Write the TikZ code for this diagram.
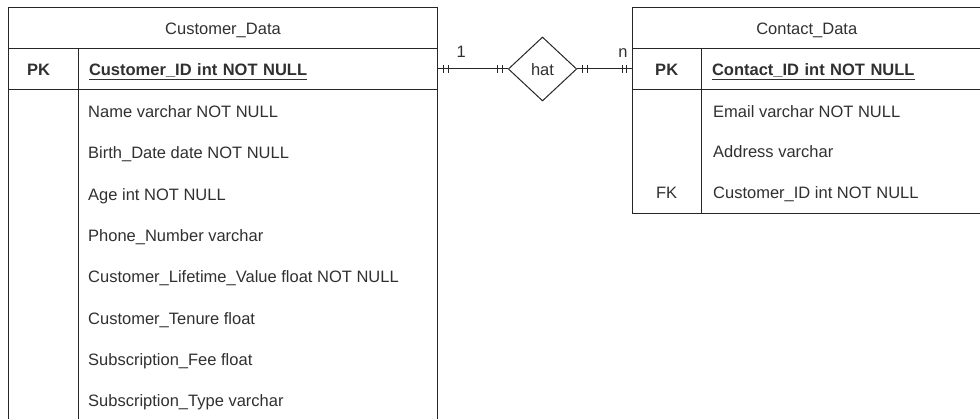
\documentclass[tikz,border=0pt]{standalone}
\usepackage{fontspec}
\setmainfont{Liberation Sans}
\usetikzlibrary{shapes.geometric}
\usetikzlibrary{decorations.markings}
\definecolor{erline}{HTML}{262626}
\definecolor{ertext}{HTML}{303030}

\begin{document}
\begin{tikzpicture}[x=1pt, y=-1pt,
  every node/.style={font=\fontsize{16.5}{19}\selectfont, text=ertext},
  cell/.style={draw=erline, line width=1pt, inner sep=0pt, anchor=north west,
    minimum height=41pt, text height=14pt, text depth=0pt},
  fieldcell/.style={cell, align=left, inner xsep=10.5pt},
  rowtext/.style={anchor=base west, inner sep=0pt},
  keytext/.style={anchor=base, inner sep=0pt},
  relation/.style={draw=erline, line width=1pt, shape=diamond, inner sep=0pt,
    minimum width=68.5pt, minimum height=64pt, text height=14pt, text depth=0pt},
  mandone/.style={draw=erline, line width=1pt,
    decoration={markings,
      mark=at position 5.5pt with {\draw[erline, line width=1pt] (0,-4pt) -- (0,4pt);},
      mark=at position 10pt with {\draw[erline, line width=1pt] (0,-4pt) -- (0,4pt);},
      mark=at position -5.5pt with {\draw[erline, line width=1pt] (0,-4pt) -- (0,4pt);},
      mark=at position -10pt with {\draw[erline, line width=1pt] (0,-4pt) -- (0,4pt);}},
    postaction={decorate}},
  card/.style={inner sep=0pt}]
\useasboundingbox (0,0) rectangle (980,419);

\node[cell, minimum width=429pt] (custtitle) at (8,7) {Customer\_Data};
\node[cell, minimum width=70pt] (custpkkey) at (8,48) {};
\node[fieldcell, text width=338pt] (custpkfield) at (78,48)
  {\underline{\textbf{Customer\_ID int NOT NULL}}};
\node[cell, minimum width=70pt, minimum height=352pt] (custkeys) at (8,89) {};
\node[cell, minimum width=359pt, minimum height=352pt] (custfields) at (78,89) {};
\node[keytext] (custpk) at (38.7,75.5) {\textbf{PK}};
\foreach \fld [count=\i from 0] in {Name varchar NOT NULL, Birth\_Date date NOT NULL,
    Age int NOT NULL, Phone\_Number varchar, Customer\_Lifetime\_Value float NOT NULL,
    Customer\_Tenure float, Subscription\_Fee float, Subscription\_Type varchar}
  \node[rowtext] (custrow\i) at (88,117.5+41.35*\i) {\fld};

\node[cell, minimum width=348.5pt] (contitle) at (632,7) {Contact\_Data};
\node[cell, minimum width=69pt] (conpkkey) at (632,48) {};
\node[fieldcell, text width=258.5pt] (conpkfield) at (701,48)
  {\underline{\textbf{Contact\_ID int NOT NULL}}};
\node[cell, minimum width=69pt, minimum height=124pt] (conkeys) at (632,89) {};
\node[cell, minimum width=279.5pt, minimum height=124pt] (confields) at (701,89) {};
\node[keytext] (conpk) at (666.7,75.5) {\textbf{PK}};
\node[keytext] (confk) at (666.7,198.3) {FK};
\foreach \fld [count=\i from 0] in {Email varchar NOT NULL, Address varchar,
    Customer\_ID int NOT NULL}
  \node[rowtext] (conrow\i) at (713,117.5+40.4*\i) {\fld};

\node[relation] (rel) at (542.5,69) {hat};

\draw[mandone] (custpkfield.east) -- (rel.west)
  node[card, at start, anchor=base west, xshift=18pt, yshift=11pt] (one) {1};
\draw[mandone] (rel.east) -- (conpkkey.west)
  node[card, at end, anchor=base east, xshift=-4pt, yshift=11pt] (many) {n};
\end{tikzpicture}
\end{document}
